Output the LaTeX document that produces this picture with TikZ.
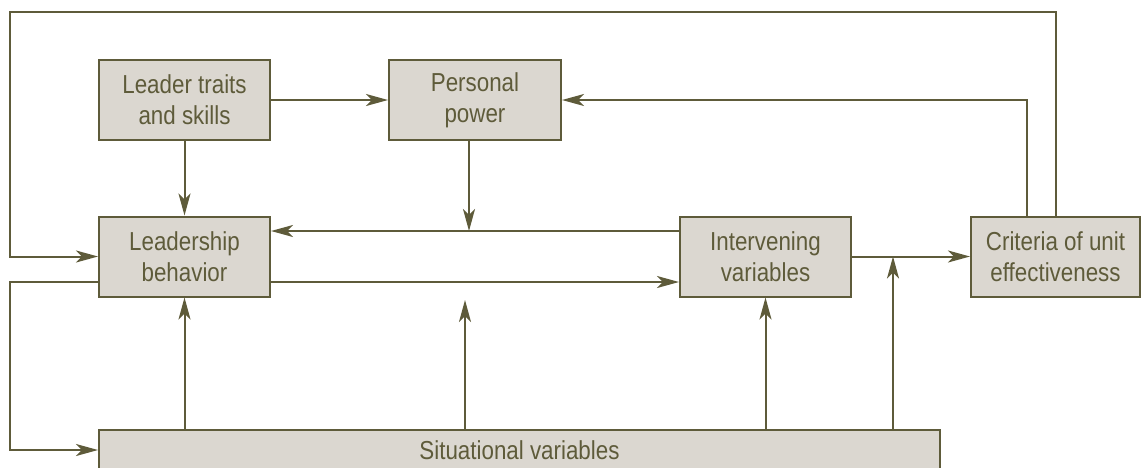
\documentclass[tikz,border=0pt]{standalone}
\usepackage{fontspec}
\setmainfont[FakeStretch=0.86]{Liberation Sans}
\usetikzlibrary{arrows.meta}
\definecolor{lineol}{RGB}{94,91,58}
\definecolor{boxfill}{RGB}{219,215,208}
\begin{document}
\begin{tikzpicture}[x=1pt,y=-1pt,
  box/.style={draw=lineol, fill=boxfill, line width=2pt, text=lineol,
    font=\fontsize{26}{31}\selectfont, align=center, inner sep=0pt},
  arr/.style={draw=lineol, line width=2pt, -{Stealth[length=22pt,width=12pt,inset=6pt]}},
  ln/.style={draw=lineol, line width=2pt}]
\useasboundingbox (0,0) rectangle (1142,467);
% boxes
\node[box, minimum width=171pt, minimum height=80pt] (lt) at (184.5,100) {Leader traits\\and skills};
\node[box, minimum width=172pt, minimum height=80pt] (pp) at (475,100) {Personal\\power};
\node[box, minimum width=171pt, minimum height=80pt] (lb) at (184.5,256.5) {Leadership\\behavior};
\node[box, minimum width=171pt, minimum height=80pt] (iv) at (765.5,256.5) {Intervening\\variables};
\node[box, minimum width=169pt, minimum height=80pt] (cr) at (1055.5,256.5) {Criteria of unit\\effectiveness};
\node[box, minimum width=841pt, minimum height=40pt] (sv) at (519.5,450) {Situational variables};
% helper coordinates
\coordinate (tl) at (10,12);
\coordinate (bl) at (10,450);
\coordinate (j1) at (469,231);
\coordinate (j2) at (465,300);
\coordinate (j3) at (893,256.5);
% connectors
\draw[arr] (cr.north) |- (tl) |- (lb.west);
\draw[arr] ([xshift=-28.5pt]cr.north) |- (pp.east);
\draw[arr] (lt.east) -- (pp.west);
\draw[arr] (lt.south) -- (lb.north);
\draw[arr] (pp.south -| j1) -- (j1);
\draw[arr] ([yshift=25.5pt]iv.west) -- ([yshift=25.5pt]lb.east);
\draw[arr] ([yshift=-25.5pt]lb.east) -- ([yshift=-25.5pt]iv.west);
\draw[arr] (iv.east) -- (cr.west);
\draw[arr] (sv.north -| lb.south) -- (lb.south);
\draw[arr] (sv.north -| j2) -- (j2);
\draw[arr] (sv.north -| iv.south) -- (iv.south);
\draw[arr] (sv.north -| j3) -- (j3);
\draw[arr] ([yshift=-25.5pt]lb.west) -| (bl) -- (sv.west);
\end{tikzpicture}
\end{document}
